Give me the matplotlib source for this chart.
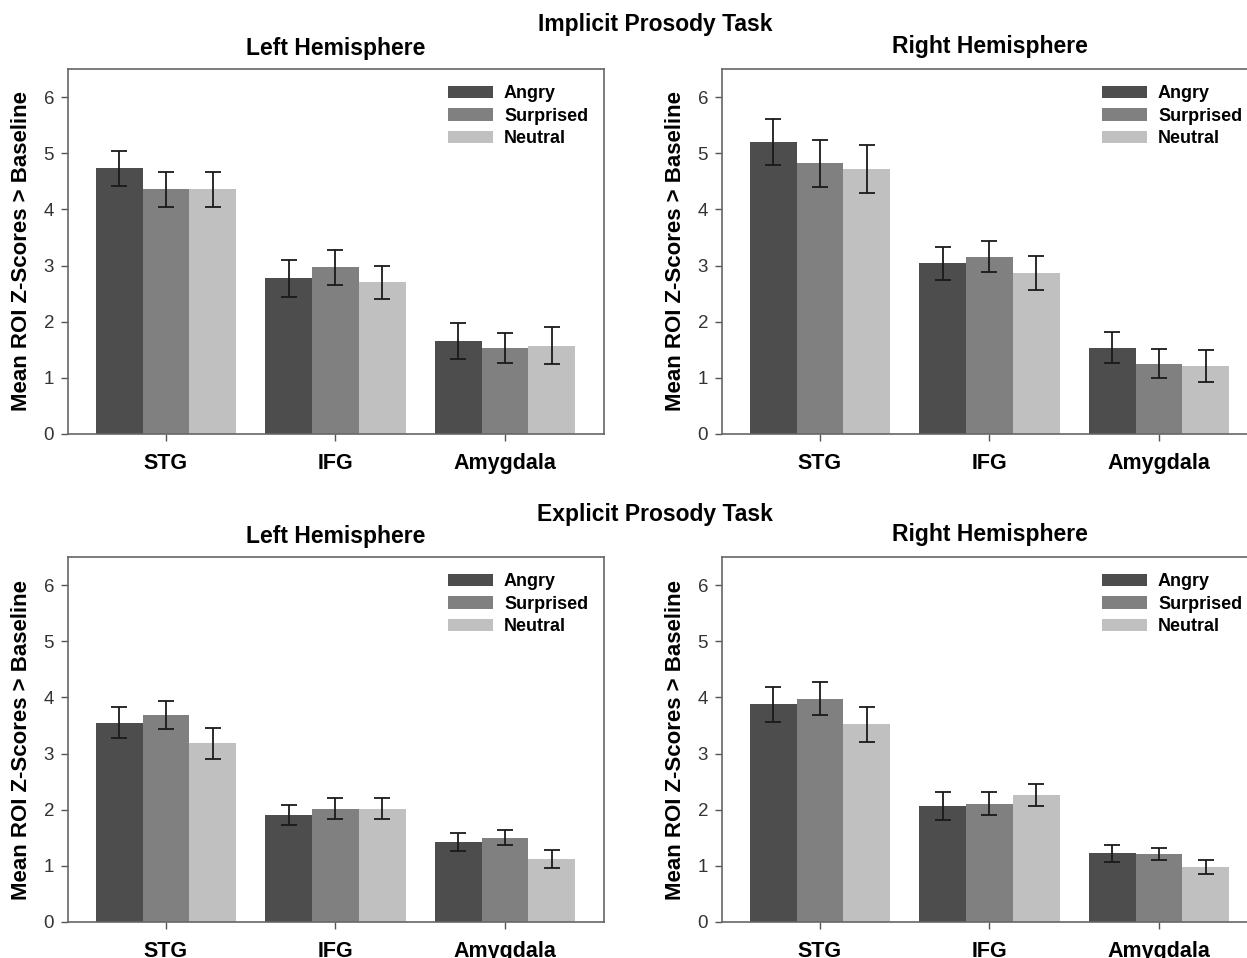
import numpy as np
import matplotlib
matplotlib.use('Agg')
import matplotlib.pyplot as plt

plt.rcParams['font.family'] = ['Liberation Sans', 'DejaVu Sans']

regions = ['STG', 'IFG', 'Amygdala']
emotions = ['Angry', 'Surprised', 'Neutral']
colors = ['#4d4d4d', '#808080', '#c0c0c0']

# implicit task, left hemisphere (rows: Angry, Surprised, Neutral)
impl_left = [[4.73, 2.77, 1.65],
             [4.36, 2.97, 1.53],
             [4.36, 2.70, 1.57]]
impl_left_err = [[0.31, 0.33, 0.32],
                 [0.31, 0.31, 0.27],
                 [0.31, 0.30, 0.33]]

# implicit task, right hemisphere
impl_right = [[5.20, 3.04, 1.54],
              [4.82, 3.16, 1.25],
              [4.72, 2.87, 1.21]]
impl_right_err = [[0.41, 0.29, 0.28],
                  [0.42, 0.27, 0.26],
                  [0.42, 0.30, 0.29]]

# explicit task, left hemisphere
expl_left = [[3.55, 1.90, 1.42],
             [3.69, 2.02, 1.50],
             [3.18, 2.02, 1.12]]
expl_left_err = [[0.28, 0.18, 0.16],
                 [0.25, 0.19, 0.13],
                 [0.27, 0.18, 0.16]]

# explicit task, right hemisphere
expl_right = [[3.88, 2.06, 1.22],
              [3.98, 2.11, 1.21],
              [3.52, 2.26, 0.98]]
expl_right_err = [[0.31, 0.25, 0.15],
                  [0.30, 0.20, 0.10],
                  [0.31, 0.20, 0.13]]

yticks = [0, 1, 2, 3, 4, 5, 6]


def draw_panel(ax, means, errs):
    """
    Grouped bars with error bars for one hemisphere
    """
    x = np.arange(len(regions))
    width = 0.277
    for i, (emo, color) in enumerate(zip(emotions, colors)):
        ax.bar(x + (i - 1) * width, means[i], width, color=color,
               label=emo, edgecolor='none', zorder=2)
        ax.errorbar(x + (i - 1) * width, means[i], yerr=errs[i], fmt='none',
                    ecolor='#1a1a1a', elinewidth=1.3, capsize=6,
                    capthick=1.3, zorder=3)

    ax.set_xlim(-0.578, 2.584)
    ax.set_ylim(0, 6.5)
    ax.set_xticks(x)
    ax.set_xticklabels(regions, fontsize=15.5, fontweight='bold')
    ax.set_yticks(yticks)
    ax.set_yticklabels([str(t) for t in yticks], fontsize=13.5, color='#333333')
    ax.tick_params(axis='both', direction='out', length=5, width=1,
                   color='#555555')
    ax.tick_params(axis='x', pad=9)
    ax.tick_params(axis='y', pad=5)
    for sp in ax.spines.values():
        sp.set_color('#666666')
        sp.set_linewidth(1.2)

    ax.set_ylabel('Mean ROI Z-Scores > Baseline', fontsize=16,
                  fontweight='bold')
    ax.yaxis.set_label_coords(-0.068, 0.5)

    ax.legend(loc='upper left', bbox_to_anchor=(0.709, 0.955), frameon=False,
              prop={'size': 13, 'weight': 'bold'}, handlelength=2.5,
              handleheight=0.65, handletextpad=0.6, labelspacing=0.3,
              borderpad=0, borderaxespad=0)


fig = plt.figure(figsize=(12.47, 9.58), dpi=100)

W = 1247.0
H = 958.0
ax_w = 536 / W
ax_h = 365 / H

ax1 = fig.add_axes([68 / W, 1 - 434 / H, ax_w, ax_h])
ax2 = fig.add_axes([722 / W, 1 - 434 / H, ax_w, ax_h])
ax3 = fig.add_axes([68 / W, 1 - 922 / H, ax_w, ax_h])
ax4 = fig.add_axes([722 / W, 1 - 922 / H, ax_w, ax_h])

draw_panel(ax1, impl_left, impl_left_err)
draw_panel(ax2, impl_right, impl_right_err)
draw_panel(ax3, expl_left, expl_left_err)
draw_panel(ax4, expl_right, expl_right_err)

fig.text(655 / W, 1 - 25 / H, 'Implicit Prosody Task', ha='center',
         va='center', fontsize=16.5, fontweight='bold')
fig.text(336 / W, 1 - 49 / H, 'Left Hemisphere', ha='center', va='center',
         fontsize=16.5, fontweight='bold')
fig.text(990 / W, 1 - 47 / H, 'Right Hemisphere', ha='center', va='center',
         fontsize=16.5, fontweight='bold')
fig.text(655 / W, 1 - 514 / H, 'Explicit Prosody Task', ha='center',
         va='center', fontsize=16.5, fontweight='bold')
fig.text(336 / W, 1 - 536 / H, 'Left Hemisphere', ha='center', va='center',
         fontsize=16.5, fontweight='bold')
fig.text(990 / W, 1 - 534 / H, 'Right Hemisphere', ha='center', va='center',
         fontsize=16.5, fontweight='bold')

fig.savefig('out.png', dpi=100)
